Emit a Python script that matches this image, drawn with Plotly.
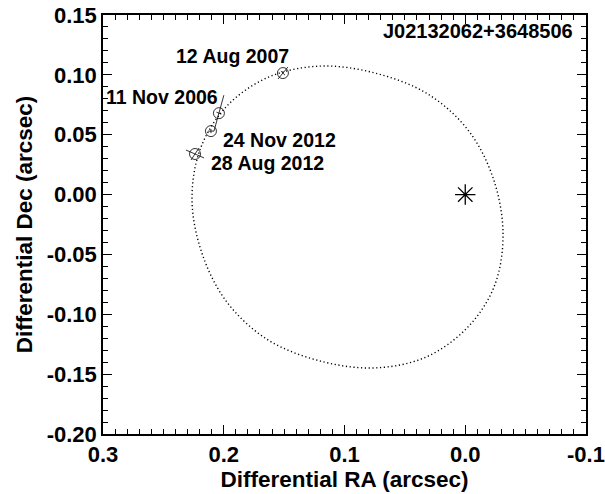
import plotly.graph_objects as go

# ---- data ----
epochs = ["11 Nov 2006", "12 Aug 2007", "28 Aug 2012", "24 Nov 2012"]
obs_ra = [0.204, 0.151, 0.2238, 0.2106]
obs_dec = [0.068, 0.1015, 0.0339, 0.053]
# error-ellipse axes (half vectors) in (dRA, dDec)
err_major_ra = [-0.0041, -0.0041, -0.0075, -0.0025]
err_major_dec = [0.0150, 0.0050, -0.0033, 0.0]
err_minor_ra = [-0.0020, -0.0017, -0.0033, 0.0]
err_minor_dec = [-0.0008, -0.0017, 0.0050, -0.0017]

# label positions (data coords) for each epoch
label_ra = [0.2511, 0.193, 0.1634, 0.1542]
label_dec = [0.0815, 0.1157, 0.0264, 0.0456]

# orbit curve
orbit_ra = [0.2263, 0.2187, 0.1964, 0.1620, 0.1199, 0.0751, 0.0310, -0.0030,
            -0.0240, -0.0313, -0.0237, -0.0012, 0.0331, 0.0751, 0.1199, 0.1640,
            0.1980, 0.2187, 0.2263]
orbit_dec = [-0.0025, 0.0400, 0.0750, 0.0985, 0.1073, 0.1016, 0.0840, 0.0530,
             0.0110, -0.0351, -0.0775, -0.1117, -0.1360, -0.1448, -0.1391, -0.1210,
             -0.0890, -0.0470, -0.0025]

primary_ra = [0.0]
primary_dec = [0.0]

title_text = "J02132062+3648506"
x_title = "Differential RA (arcsec)"
y_title = "Differential Dec (arcsec)"

x_ticks = [0.3, 0.2, 0.1, 0.0, -0.1]
x_ticktext = ["0.3", "0.2", "0.1", "0.0", "-0.1"]
y_ticks = [0.15, 0.10, 0.05, 0.0, -0.05, -0.10, -0.15, -0.20]
y_ticktext = ["0.15", "0.10", "0.05", "0.00", "-0.05", "-0.10", "-0.15", "-0.20"]
x_minor = [round(-0.1 + 0.01 * k, 2) for k in range(41)]
y_minor = [round(-0.2 + 0.01 * k, 2) for k in range(36)]

FONT = "Liberation Sans, Arial, Helvetica, sans-serif"

fig = go.Figure()

fig.add_trace(go.Scatter(x=orbit_ra, y=orbit_dec, mode="lines",
                         line=dict(color="black", width=1.4, dash="1.2px,2.6px",
                                   shape="spline", smoothing=1.0),
                         hoverinfo="skip", showlegend=False))

# error bars
ex, ey = [], []
for i in range(len(obs_ra)):
    for dra, ddec in ((err_major_ra[i], err_major_dec[i]), (err_minor_ra[i], err_minor_dec[i])):
        ex += [obs_ra[i] - dra, obs_ra[i] + dra, None]
        ey += [obs_dec[i] - ddec, obs_dec[i] + ddec, None]
fig.add_trace(go.Scatter(x=ex, y=ey, mode="lines", line=dict(color="black", width=0.8),
                         hoverinfo="skip", showlegend=False))

fig.add_trace(go.Scatter(x=obs_ra, y=obs_dec, mode="markers",
                         marker=dict(symbol="circle-open", size=11, color="black",
                                     line=dict(width=0.8, color="black")),
                         text=epochs, showlegend=False))

fig.add_trace(go.Scatter(x=primary_ra, y=primary_dec, mode="markers",
                         marker=dict(symbol="asterisk-open", size=17, color="black",
                                     line=dict(width=1.3, color="black")),
                         showlegend=False))

for t, lx, ly in zip(epochs, label_ra, label_dec):
    fig.add_annotation(x=lx, y=ly, xref="x", yref="y", text=t, showarrow=False,
                       xanchor="center", yanchor="middle",
                       font=dict(family=FONT, size=19.5, color="black", weight="bold"))

fig.add_annotation(x=0.776, y=0.962, xref="paper", yref="paper", text=title_text,
                   showarrow=False, xanchor="center", yanchor="middle",
                   font=dict(family=FONT, size=20, color="black", weight="bold"))

axis_common = dict(showgrid=False, zeroline=False, showline=True, linecolor="black",
                   linewidth=1.5, mirror="allticks", ticks="inside", ticklen=9,
                   tickwidth=1.3, tickcolor="black", automargin=False,
                   tickfont=dict(family=FONT, size=22, color="black", weight="bold"),
                   title_font=dict(family=FONT, size=22.5, color="black", weight="bold"))

fig.update_xaxes(range=[0.3, -0.1], tickmode="array", tickvals=x_ticks, ticktext=x_ticktext,
                 minor=dict(ticks="inside", tickmode="array", tickvals=x_minor, ticklen=5,
                            tickwidth=1, tickcolor="black", showgrid=False),
                 title=dict(text=x_title, standoff=2), **axis_common)
fig.update_yaxes(range=[-0.2, 0.15], tickmode="array", tickvals=y_ticks, ticktext=y_ticktext,
                 minor=dict(ticks="inside", tickmode="array", tickvals=y_minor, ticklen=5,
                            tickwidth=1, tickcolor="black", showgrid=False),
                 title=dict(text=y_title, standoff=8), **axis_common)

fig.update_layout(width=605, height=494, margin=dict(l=103, r=19, t=15, b=60),
                  plot_bgcolor="white", paper_bgcolor="white", showlegend=False)

fig.write_html("out.html", config={"displayModeBar": False},
               post_script="document.body.style.margin='0';")
